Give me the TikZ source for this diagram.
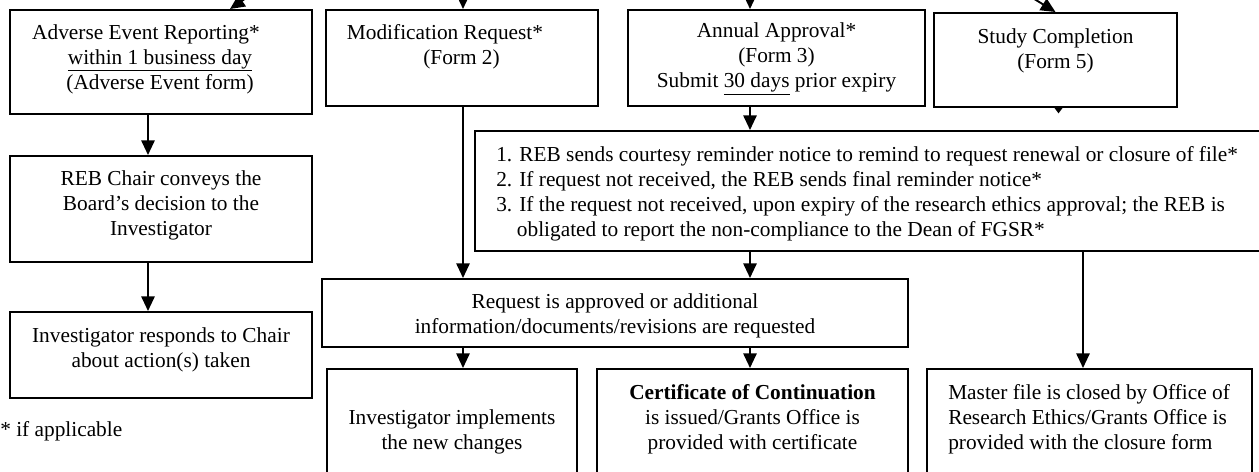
\documentclass[tikz,border=0pt]{standalone}
\usepackage{fontspec}
\setmainfont{Liberation Serif}
\usetikzlibrary{arrows.meta}
\newcommand\fsz{\fontsize{16pt}{18.75pt}\selectfont}
\tikzset{
  bx/.style 2 args={draw, rectangle, line width=1.5pt, minimum width=#1*0.75pt, minimum height=#2*0.75pt, inner sep=0pt},
  tx/.style={align=center, inner sep=0pt, font=\fsz},
  tl/.style={align=left, inner sep=0pt, font=\fsz},
  arr/.style={line width=1.4pt, -{Triangle[length=11pt,width=10pt]}}}
\begin{document}
\begin{tikzpicture}[x=0.75pt,y=-0.75pt]
\clip (0,0) rectangle (1259,471);
% boxes
\node[bx={302}{104}] (A) at (161,62) {};
\node[bx={272}{96}] (M) at (462,58) {};
\node[bx={297}{96}] (N) at (776.5,58) {};
\node[bx={243}{94}] (S) at (1055.5,60) {};
\node[bx={795}{120}] (R) at (872.5,191) {};
\node[bx={302}{106}] (B) at (161,209) {};
\node[bx={302}{86}] (C) at (161,355) {};
\node[bx={586}{68}] (Q) at (615,313) {};
\node[bx={250}{111}] (I) at (452,424.5) {};
\node[bx={311}{111}] (K) at (752.5,424.5) {};
\node[bx={325}{111}] (F) at (1089.5,424.5) {};
% texts
\node[tx] (tA) at (160,59) {Adverse Event Reporting*\hspace*{21pt}\\ \underline{within 1 business day}\\ (Adverse Event form)};
\node[tx] (tM) at (461.5,47) {Modification Request*\hspace*{24.75pt}\\ (Form 2)};
\node[tx] (tN) at (776.5,59) {Annual Approval*\\ (Form 3)\\ Submit \underline{30 days} prior expiry};
\node[tx] (tS) at (1055.5,50.5) {Study Completion\\ (Form 5)};
\node[tl,anchor=west] (tR) at (496,193.5) {1. REB sends courtesy reminder notice to remind to request renewal or closure of file*\\ 2. If request not received, the REB sends final reminder notice*\\ 3. If the request not received, upon expiry of the research ethics approval; the REB is\\ \hspace*{15.5pt}obligated to report the non-compliance to the Dean of FGSR*};
\node[tx] (tB) at (161,205) {REB Chair conveys the\\ Board’s decision to the\\ Investigator};
\node[tx] (tC) at (161,349.5) {Investigator responds to Chair\\ about action(s) taken};
\node[tx] (tQ) at (615,316) {Request is approved or additional\\ information/documents/revisions are requested};
\node[tx] (tI) at (452,431.5) {Investigator implements\\ the new changes};
\node[tx] (tK) at (752.5,419) {\textbf{Certificate of Continuation}\\ is issued/Grants Office is\\ provided with certificate};
\node[tl,anchor=west] (tF) at (948,419) {Master file is closed by Office of\\ Research Ethics/Grants Office is\\ provided with the closure form};
\node[tl,anchor=west] (tFoot) at (0,431) {* if applicable};
% helper coordinates
\coordinate (xa) at (148,0);
\coordinate (xb) at (750,0);
\coordinate (xc) at (1083,0);
\coordinate (xd) at (463,0);
\coordinate (xe) at (230,0);
\coordinate (inA) at (296,-36);
\coordinate (inM) at (463,-20);
\coordinate (inN) at (750,-20);
\coordinate (inS) at (1000,-22);
% incoming arrows from above
\draw[arr] (inA) -- (A.north -| xe);
\draw[arr] (inM) -- (M.north -| xd);
\draw[arr] (inN) -- (N.north -| xb);
\draw[arr] (inS) -- (S.north);
% tiny stub below Study Completion
\fill ([xshift=-0.75pt]S.south) -- ([xshift=5.25pt]S.south) -- ([xshift=2.25pt,yshift=-4pt]S.south) -- cycle;
% left column
\draw[arr] (A.south -| xa) -- (B.north -| xa);
\draw[arr] (B.south -| xa) -- (C.north -| xa);
% middle
\draw[arr] (N.south -| xb) -- (R.north -| xb);
\draw[arr] (M.south -| xd) -- (Q.north -| xd);
\draw[arr] (R.south -| xb) -- (Q.north -| xb);
\draw[arr] (R.south -| xc) -- (F.north -| xc);
\draw[arr] (Q.south -| xd) -- (I.north -| xd);
\draw[arr] (Q.south -| xb) -- (K.north -| xb);
\end{tikzpicture}
\end{document}
